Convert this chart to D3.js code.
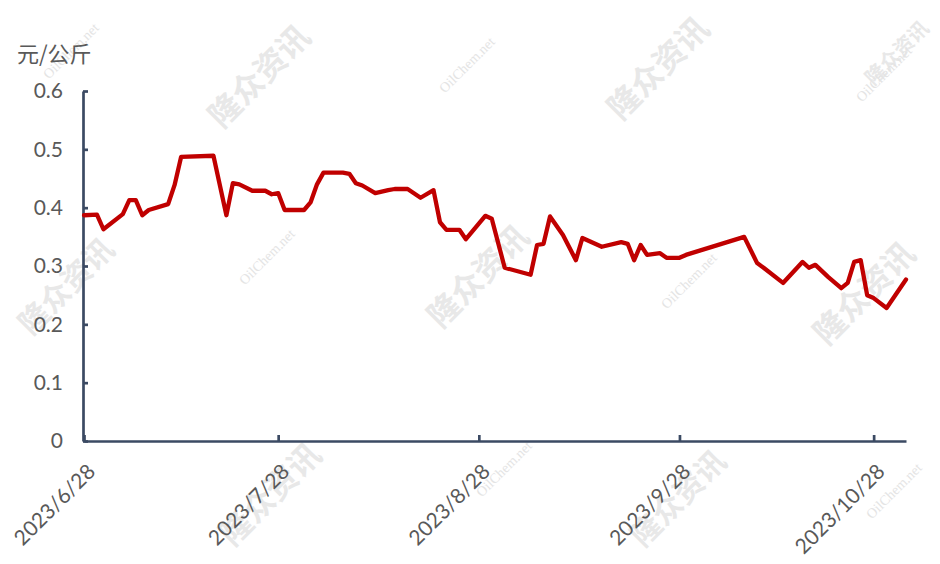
<!DOCTYPE html>
<html>
<head>
<meta charset="utf-8">
<script src="https://cdn.jsdelivr.net/npm/d3@7/dist/d3.min.js"></script>
<style>
  html, body { margin: 0; padding: 0; background: #fff; }
  svg { display: block; }
</style>
</head>
<body>
<svg id="chart" width="940" height="564"></svg>
<script>
// ---- data ----
const dates = ["2023-06-28","2023-06-30","2023-07-01","2023-07-04","2023-07-05","2023-07-06","2023-07-07","2023-07-08",
  "2023-07-11","2023-07-12","2023-07-13","2023-07-18","2023-07-20","2023-07-21","2023-07-22","2023-07-24","2023-07-26",
  "2023-07-27","2023-07-28","2023-07-29","2023-08-01","2023-08-02","2023-08-03","2023-08-04","2023-08-07","2023-08-08",
  "2023-08-09","2023-08-10","2023-08-12","2023-08-14","2023-08-15","2023-08-17","2023-08-19","2023-08-21","2023-08-22",
  "2023-08-23","2023-08-25","2023-08-26","2023-08-29","2023-08-30","2023-09-01","2023-09-05","2023-09-06","2023-09-07",
  "2023-09-08","2023-09-10","2023-09-12","2023-09-13","2023-09-16","2023-09-19","2023-09-20","2023-09-21","2023-09-22",
  "2023-09-23","2023-09-25","2023-09-26","2023-09-28","2023-09-29","2023-10-08","2023-10-10","2023-10-11","2023-10-14",
  "2023-10-17","2023-10-18","2023-10-19","2023-10-21","2023-10-23","2023-10-24","2023-10-25","2023-10-26","2023-10-27",
  "2023-10-28","2023-10-30","2023-11-02"];
const values = [0.387,0.388,0.363,0.389,0.413,0.413,0.387,0.396,
  0.406,0.439,0.487,0.489,0.387,0.442,0.440,0.429,0.429,
  0.423,0.425,0.396,0.396,0.409,0.440,0.460,0.460,0.458,
  0.442,0.438,0.425,0.430,0.432,0.432,0.417,0.430,0.375,
  0.362,0.362,0.346,0.386,0.381,0.297,0.285,0.336,0.338,
  0.385,0.353,0.310,0.348,0.333,0.341,0.338,0.310,0.336,
  0.319,0.322,0.314,0.314,0.319,0.350,0.305,0.297,0.271,
  0.307,0.297,0.302,0.281,0.262,0.271,0.307,0.310,0.250,
  0.245,0.228,0.277];
const xTickDates = ["2023-06-28","2023-07-28","2023-08-28","2023-09-28","2023-10-28"];
const xTickLabels = ["2023/6/28","2023/7/28","2023/8/28","2023/9/28","2023/10/28"];
const yTicks = [0, 0.1, 0.2, 0.3, 0.4, 0.5, 0.6];
const yUnit = "元/公斤";
const wmCN = "隆众资讯";
const wmEN = "OilChem.net";

// ---- layout ----
const parse = d3.utcParse("%Y-%m-%d");
const svg = d3.select("#chart");
const mLeft = 83, mRight = 907, mTop = 91, mBottom = 441;
const axisColor = "#3b4a63";
const textColor = "#595959";
const font = "Lato, 'Open Sans', sans-serif";

// watermarks (faint, behind)
const wm = svg.append("g");
const cnPos = [[261,78,32],[68,288,30],[480,278,32],[660,70,32],[866,295,32],[272,496,32],[680,500,30],[898,54,20]];
cnPos.forEach(p => {
  wm.append("text").attr("transform", `translate(${p[0]},${p[1]}) rotate(-45)`)
    .attr("text-anchor","middle").attr("dominant-baseline","middle")
    .attr("font-family","'Noto Sans CJK SC', sans-serif").attr("font-weight","bold")
    .attr("font-size",p[2]).attr("fill","#e8e8e8").text(wmCN);
});
const enPos = [[72,52],[468,66],[885,75],[268,258],[690,282],[505,470],[895,492]];
enPos.forEach(p => {
  wm.append("text").attr("transform", `translate(${p[0]},${p[1]}) rotate(-45)`)
    .attr("text-anchor","middle").attr("dominant-baseline","middle")
    .attr("font-family","'Liberation Serif', serif")
    .attr("font-size",14).attr("fill","#e4e4e4").text(wmEN);
});

const x = d3.scaleUtc().domain([parse("2023-06-28"), parse("2023-11-02")]).range([mLeft + 1, mRight - 1]);
const y = d3.scaleLinear().domain([0, 0.6]).range([mBottom, mTop]);

// y axis
const yAxis = svg.append("g").attr("transform", `translate(${mLeft},0)`)
  .call(d3.axisLeft(y).tickValues(yTicks).tickSizeInner(-5).tickSizeOuter(0).tickPadding(20)
    .tickFormat(d => d === 0 ? "0" : d3.format(".1f")(d)));
yAxis.select(".domain").attr("stroke", axisColor).attr("stroke-width", 2.7);
yAxis.selectAll(".tick line").attr("stroke", axisColor).attr("stroke-width", 2.7);
yAxis.selectAll(".tick text").attr("fill", textColor).attr("font-family", font).attr("font-size", 21);

// x axis
const xAxis = svg.append("g").attr("transform", `translate(0,${mBottom})`)
  .call(d3.axisBottom(x).tickValues(xTickDates.map(parse)).tickSizeInner(-6).tickSizeOuter(0)
    .tickFormat((d, i) => xTickLabels[i]));
xAxis.select(".domain").attr("stroke", axisColor).attr("stroke-width", 2.7);
xAxis.selectAll(".tick line").attr("stroke", axisColor).attr("stroke-width", 2.7);
xAxis.selectAll(".tick text")
  .attr("fill", textColor).attr("font-family", font).attr("font-size", 21)
  .attr("text-anchor", "end").attr("dy", null).attr("y", 0)
  .attr("transform", "translate(12,32) rotate(-45)");

// unit label
svg.append("text").attr("x", 17).attr("y", 62)
  .attr("font-family", "'Noto Sans CJK SC', sans-serif").attr("font-size", 22)
  .attr("fill", textColor).text(yUnit);

// line
const data = dates.map((d, i) => ({ date: parse(d), value: values[i] }));
svg.append("path").datum(data)
  .attr("fill", "none").attr("stroke", "#c00000").attr("stroke-width", 4.3)
  .attr("stroke-linejoin", "round").attr("stroke-linecap", "round")
  .attr("d", d3.line().x(d => x(d.date)).y(d => y(d.value)));
</script>
</body>
</html>
